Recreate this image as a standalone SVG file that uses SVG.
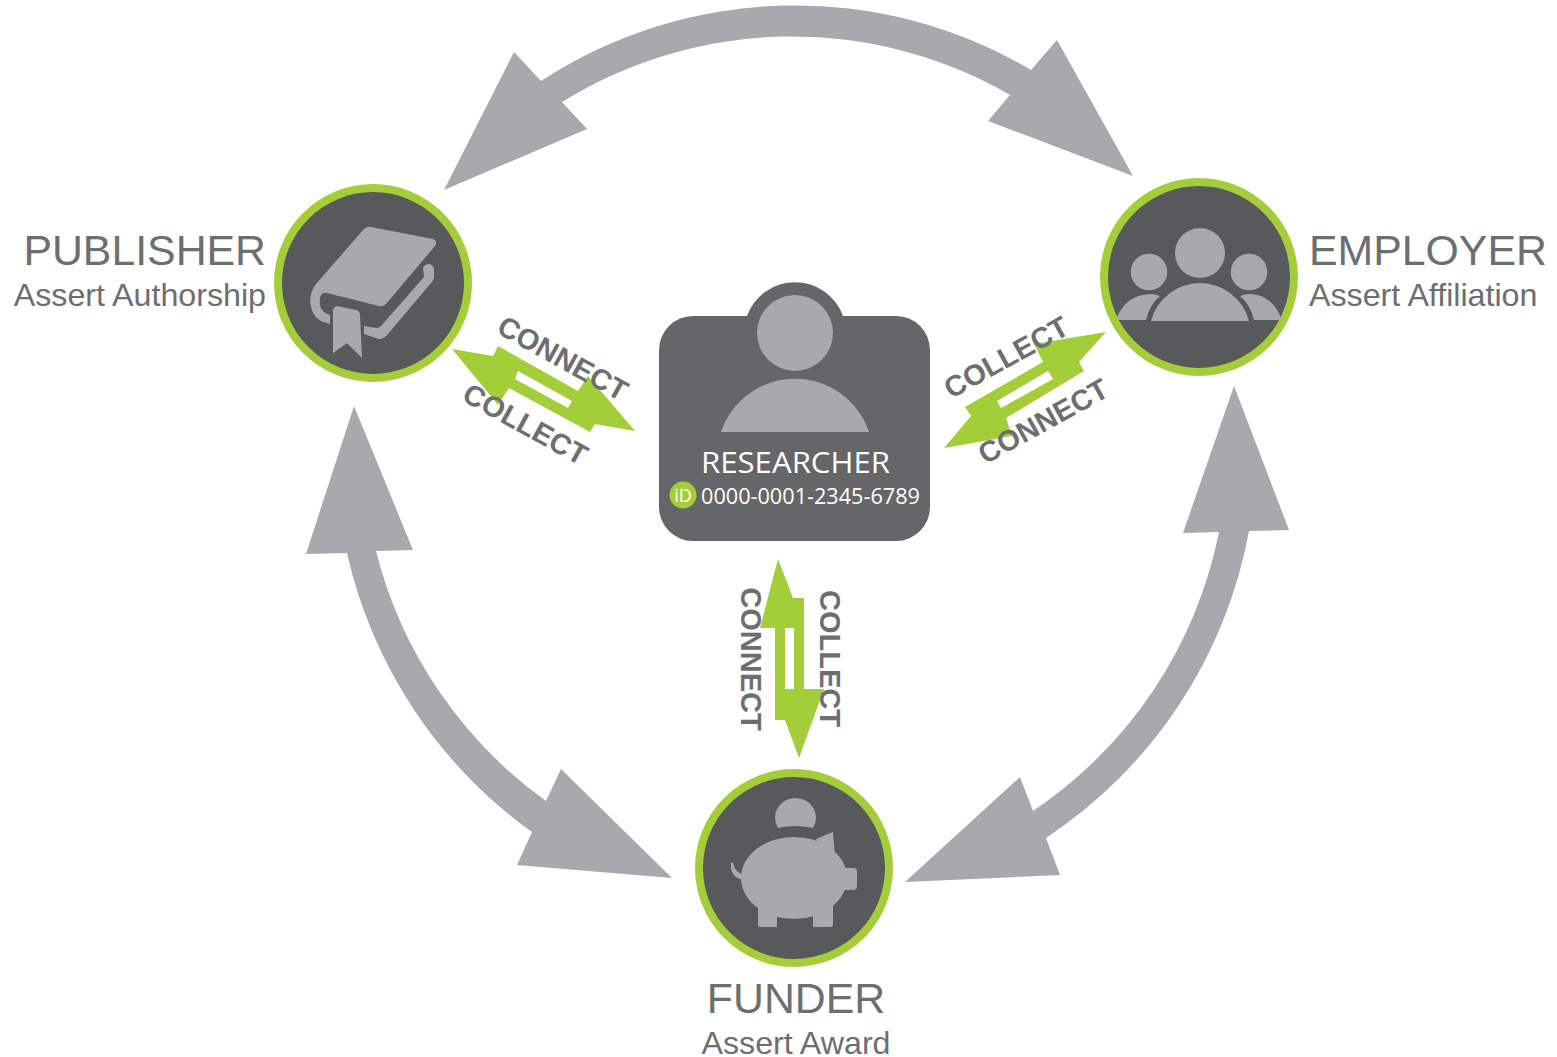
<svg xmlns="http://www.w3.org/2000/svg" width="1557" height="1057" viewBox="0 0 1557 1057">
<style>
.ring{fill:#58595b;stroke:#a4ce39;stroke-width:8}
.ico{fill:#a7a9ac}
.big{fill:#a7a9ac}
.grn{fill:#a4ce39;fill-rule:evenodd}
.t1{font-family:"Liberation Sans",Arial,sans-serif;font-size:42.8px;fill:#6d6e71}
.t2{font-family:"Liberation Sans",Arial,sans-serif;font-size:32.2px;fill:#6d6e71}
.lb{font-family:"Liberation Sans",Arial,sans-serif;font-size:29px;font-weight:bold;fill:#6d6e71;text-anchor:middle}
</style>
<rect width="1557" height="1057" fill="#ffffff"/>
<g id="connectors">
<path id="arc-top" class="big" d="M444,190 L514,52 L541,81 A464,464 0 0 1 1031,70 L1057,40 L1133,176 L988,121 L1010,95 A436,436 0 0 0 562,102 L587,129 Z"/>
<path id="arc-left" class="big" d="M354,406 L413,550 L376,551 A440,440 0 0 0 546,801 L561,769 L672,878 L517,865 L532,832 A470,470 0 0 1 347,553 L306,554 Z"/>
<path id="arc-right" class="big" d="M1234,386 L1289,530 L1249,531 A470,470 0 0 1 1046,838 L1060,875 L905,882 L1020,777 L1033,811 A440,440 0 0 0 1219,532 L1183,533 Z"/>
<path id="link-left" class="grn" d="M452,349 L493,356 L498,346 L578,391 L588,376 L635,431 L595,424 L590,432 L509,388 L498,405 Z M518,371 L572,401 L568,408 L515,379 Z"/>
<path id="link-right" class="grn" d="M1106,332 L1079,362 L1084,371 L1006,418 L1012,436 L944,448 L971,416 L965,407 L1043,362 L1034,344 Z M997,401 L1048,371 L1053,379 L1001,408 Z"/>
<path id="link-bottom" class="grn" d="M778,559 L793,598 L804,598 L804,689 L824,689 L799,758 L785,720 L775,720 L775,628 L760,628 Z M785,628 L794,628 L794,689 L785,689 Z"/>
<text class="lb" transform="translate(558,367) rotate(29)">CONNECT</text>
<text class="lb" transform="translate(520.500,433) rotate(29)">COLLECT</text>
<text class="lb" transform="translate(1011,366) rotate(-29)">COLLECT</text>
<text class="lb" transform="translate(1048,430) rotate(-29)">CONNECT</text>
<text class="lb" transform="translate(741,659) rotate(90)">CONNECT</text>
<text class="lb" transform="translate(820,658.500) rotate(90)">COLLECT</text>
</g>
<g id="publisher">
<circle class="ring" cx="373" cy="283" r="95"/>
<path class="ico" d="M364,229 Q367,226 371,227 L433,239 Q438,241 435,246 L386,304 Q383,307 379,306 L327,293 Q321,292 320,298 Q318,312 330,315 L330,324 Q314,321 311,307 Q308,295 316,284 Z"/>
<path class="ico" d="M333,311 Q333,307 337,306 L356,310 Q360,311 360,315 L362,358 L347,343 L333,353 Z"/>
<path class="ico" d="M364,326 L376,328 Q379,328 381,326 L424,277 L423,268 Q425,264 429,264 Q434,265 434,270 L434,278 Q433,281 431,283 L388,334 Q384,339 379,339 L364,334 Z"/>
<text class="t1" x="266" y="265" text-anchor="end">PUBLISHER</text>
<text class="t2" x="266" y="306" text-anchor="end">Assert Authorship</text>
</g>
<g id="employer">
<circle class="ring" cx="1199" cy="277" r="95"/>
<circle class="ico" cx="1200" cy="253" r="25"/>
<circle class="ico" cx="1149" cy="272" r="18.300"/>
<circle class="ico" cx="1249" cy="272" r="18.300"/>
<path class="ico" d="M1151,321 A50.600,50.600 0 0 1 1249,321 Z"/>
<path class="ico" d="M1116,320 Q1125,295 1150,294 Q1156,294 1160,296 Q1150,304 1146,320 Z"/>
<path class="ico" d="M1282,320 Q1273,295 1250,294 Q1244,294 1240,296 Q1250,304 1254,320 Z"/>
<text class="t1" x="1309" y="265">EMPLOYER</text>
<text class="t2" x="1309" y="306">Assert Affiliation</text>
</g>
<g id="funder">
<circle class="ring" cx="794" cy="868" r="95"/>
<path class="ico" d="M778,828 Q775,823 775,818 A20.500,20 0 0 1 816,818 Q816,823 813,828 Q795,824 778,828 Z"/>
<ellipse class="ico" cx="794" cy="878" rx="53" ry="41"/>
<path class="ico" d="M816,839 L833,832 L835,856 L820,850 Z"/>
<path class="ico" d="M840,868 L853,868 Q857,868 857,872 L857,886 Q857,890 853,890 L840,890 Z"/>
<path class="ico" d="M758,900 L758,925 Q758,927 760,927 L777,927 L777,910 Z M813,910 L813,927 L831,927 Q833,927 833,925 L833,900 Z"/>
<path class="ico" d="M731,864 Q730,861 733,863 Q735,873 745,875 L743,880 Q730,877 731,864 Z"/>
<text class="t1" x="796" y="1013" text-anchor="middle">FUNDER</text>
<text class="t2" x="796" y="1054" text-anchor="middle">Assert Award</text>
</g>
<g id="researcher">
<path fill="#656668" d="M747,316 A51,51 0 0 1 843,316 L896,316 A34,34 0 0 1 930,350 L930,507 A34,34 0 0 1 896,541 L693,541 A34,34 0 0 1 659,507 L659,350 A34,34 0 0 1 693,316 Z"/>
<circle class="ico" cx="795" cy="333" r="38"/>
<path class="ico" d="M721,432 A78,78 0 0 1 869,432 Z"/>
<text x="795.500" y="473" text-anchor="middle" font-family="'Open Sans',sans-serif" font-size="30" font-weight="500" fill="#ffffff" textLength="189" lengthAdjust="spacingAndGlyphs">RESEARCHER</text>
<circle cx="683" cy="495" r="13.500" fill="#a4ce39"/>
<text x="683" y="501.500" text-anchor="middle" font-family="'Open Sans',sans-serif" font-size="18" fill="#ffffff">iD</text>
<text x="701" y="504" font-family="'Open Sans',sans-serif" font-size="22" font-weight="500" fill="#ffffff" textLength="219" lengthAdjust="spacingAndGlyphs">0000-0001-2345-6789</text>
</g>
</svg>
